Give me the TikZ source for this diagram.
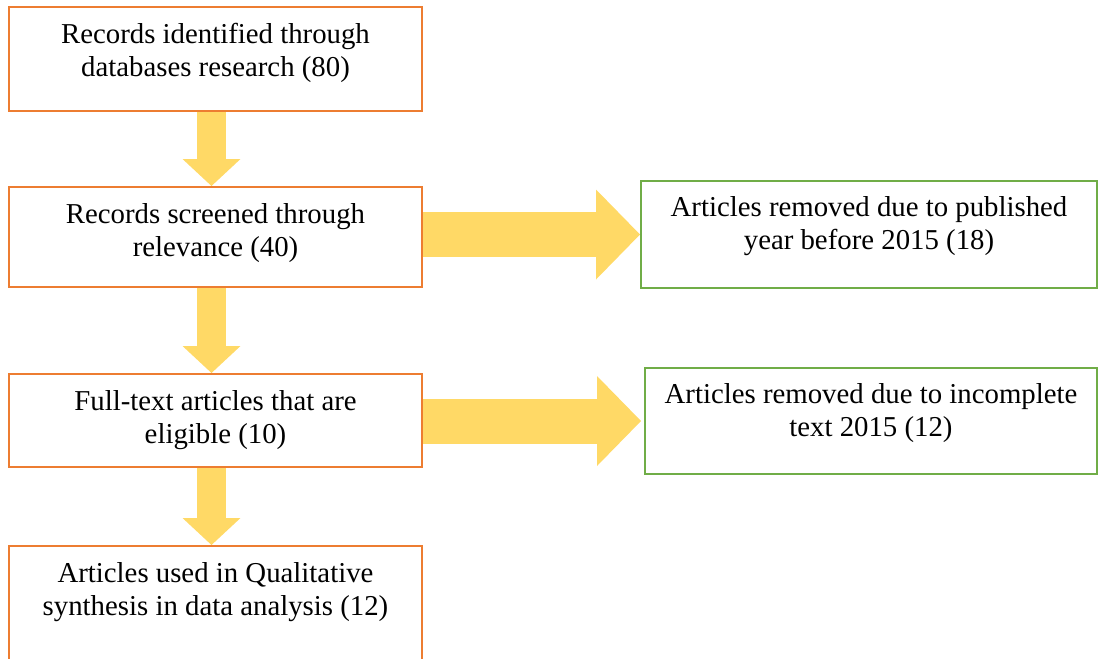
\documentclass[tikz,border=0pt]{standalone}
\usepackage{fontspec}
\setmainfont{Liberation Serif}
\usetikzlibrary{arrows.meta, positioning, backgrounds}
\definecolor{boxorange}{RGB}{237,125,49}
\definecolor{boxgreen}{RGB}{112,173,71}
\definecolor{flowgold}{RGB}{255,217,102}

\begin{document}
\begin{tikzpicture}[x=0.75pt, y=-0.75pt,
    stage/.style={rectangle, draw=boxorange, line width=1.5pt, minimum width=309.75pt, inner sep=0pt},
    excluded/.style={rectangle, draw=boxgreen, line width=1.5pt, inner sep=0pt},
    caption/.style={inner sep=0pt, align=center, font=\fontsize{21.6pt}{24.75pt}\selectfont},
    downflow/.style={draw=flowgold, line width=21.75pt, -{Triangle[width=43.5pt, length=20.25pt, line width=0pt]}},
    sideflow/.style={draw=flowgold, line width=33.75pt, -{Triangle[width=67.5pt, length=33pt, line width=0pt]}}
]
    \useasboundingbox (0,0) rectangle (1101,658);
    \clip (0,0) rectangle (1101,658);

    % boxes of the main flow
    \node[stage, minimum height=78pt] (ident) at (215.5,59) {};
    \node[stage, minimum height=75pt] (screen) at (215.5,237) {};
    \node[stage, minimum height=69.75pt] (fulltext) at (215.5,420.5) {};
    \node[stage, minimum height=97.5pt] (synth) at (215.5,611) {};

    % boxes of the removed articles
    \node[excluded, minimum width=342pt, minimum height=80.25pt] (pubyear) at (869,234.5) {};
    \node[excluded, minimum width=339pt, minimum height=79.5pt] (incompl) at (871,421) {};

    % texts
    \node[caption, below=13pt of ident.north] (identtxt) {Records identified through\\databases research (80)};
    \node[caption, below=13pt of screen.north] (screentxt) {Records screened through\\relevance (40)};
    \node[caption, below=13pt of fulltext.north] (fulltexttxt) {Full-text articles that are\\eligible (10)};
    \node[caption, below=13pt of synth.north] (synthtxt) {Articles used in Qualitative\\synthesis in data analysis (12)};
    \node[caption, below=12pt of pubyear.north] (pubyeartxt) {Articles removed due to published\\year before 2015 (18)};
    \node[caption, below=12pt of incompl.north] (incompltxt) {Articles removed due to incomplete\\text 2015 (12)};

    \begin{scope}[on background layer]
        \draw[downflow] ([xshift=-3pt]ident.south) -- ([xshift=-3pt]screen.north);
        \draw[downflow] ([xshift=-3pt]screen.south) -- ([xshift=-3pt]fulltext.north);
        \draw[downflow] ([xshift=-3pt]fulltext.south) -- ([xshift=-3pt]synth.north);
        \draw[sideflow] (screen.east |- pubyear.west) -- (pubyear.west);
        \draw[sideflow] (fulltext.east |- incompl.west) -- ([xshift=-2.25pt]incompl.west);
    \end{scope}
\end{tikzpicture}
\end{document}
